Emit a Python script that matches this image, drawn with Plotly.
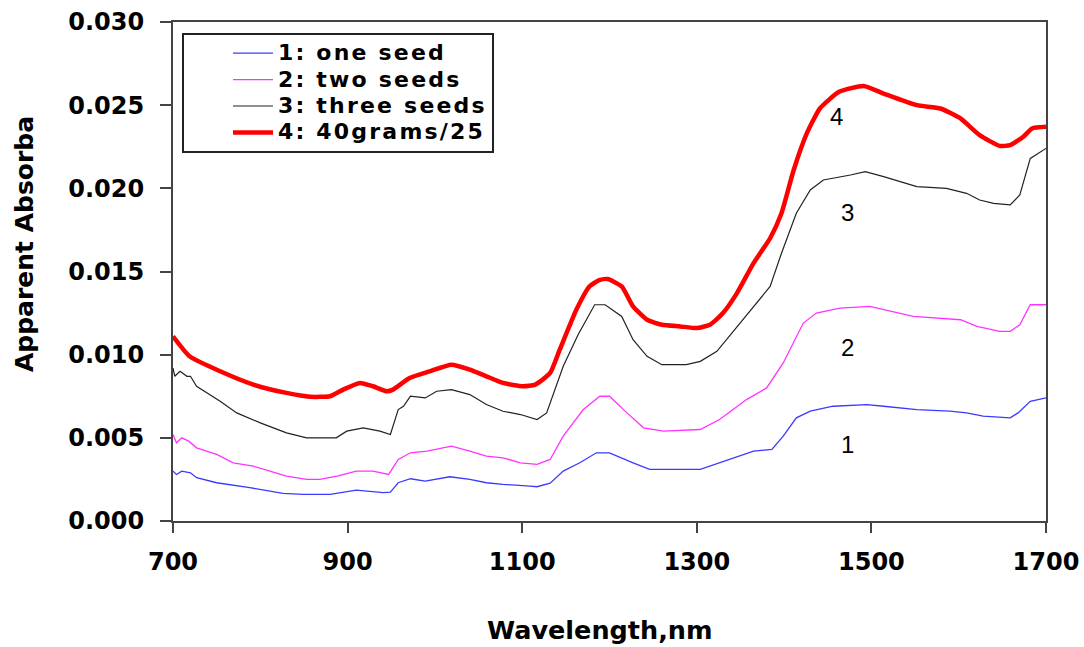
import plotly.graph_objects as go

# Series 4: 40grams/25 (red)
wl4 = [700, 719, 754, 792, 830, 857, 880, 895, 914, 929, 945, 952, 971, 994, 1019, 1040, 1059, 1078,
       1101, 1115, 1132, 1143, 1162, 1177, 1189, 1198, 1214, 1227, 1243, 1260, 1281, 1300, 1315, 1330,
       1346, 1365, 1384, 1397, 1411, 1426, 1441, 1463, 1491, 1514, 1552, 1579, 1602, 1624, 1647, 1659,
       1674, 1684, 1700]
abs4 = [0.0111, 0.0099, 0.0090, 0.0082, 0.0077, 0.00747, 0.0075, 0.0079, 0.0083, 0.0081, 0.0078, 0.0079,
        0.0086, 0.0090, 0.0094, 0.0091, 0.0087, 0.0083, 0.0081, 0.0082, 0.0089, 0.0103, 0.0127, 0.0141,
        0.0145, 0.01455, 0.0141, 0.0129, 0.0121, 0.0118, 0.0117, 0.0116, 0.0118, 0.0125, 0.0137, 0.0155,
        0.0170, 0.0185, 0.0211, 0.0233, 0.0248, 0.0258, 0.02615, 0.0257, 0.0250, 0.0248, 0.0242, 0.0232,
        0.02255, 0.0226, 0.0231, 0.0236, 0.0237]

# Series 3: three seeds (black)
wl3 = [700, 702, 708, 716, 720, 727, 754, 773, 800, 830, 853, 887, 899, 918, 937, 949, 958, 964, 972,
       989, 1002, 1019, 1040, 1059, 1078, 1098, 1117, 1128, 1147, 1164, 1183, 1195, 1214, 1227, 1243,
       1260, 1288, 1304, 1323, 1350, 1369, 1384, 1397, 1414, 1430, 1445, 1476, 1493, 1514, 1552, 1586,
       1609, 1624, 1640, 1659, 1670, 1682, 1697, 1700]
abs3 = [0.0092, 0.0087, 0.0090, 0.0087, 0.0087, 0.0081, 0.0072, 0.0065, 0.0059, 0.0053, 0.0050, 0.0050,
        0.0054, 0.0056, 0.0054, 0.0052, 0.0067, 0.0069, 0.0075, 0.0074, 0.0078, 0.0079, 0.0076, 0.0070,
        0.0066, 0.0064, 0.0061, 0.0065, 0.0093, 0.0112, 0.0130, 0.0130, 0.0123, 0.0109, 0.0099, 0.0094,
        0.0094, 0.0096, 0.0102, 0.0119, 0.0131, 0.0141, 0.0161, 0.0185, 0.0199, 0.0205, 0.0208, 0.0210,
        0.0207, 0.0201, 0.0200, 0.0197, 0.0193, 0.0191, 0.0190, 0.0196, 0.0218, 0.0223, 0.0224]

# Series 2: two seeds (magenta)
wl2 = [700, 704, 710, 718, 727, 750, 769, 792, 811, 830, 853, 868, 888, 910, 929, 947, 958, 972, 991,
       1019, 1040, 1059, 1078, 1098, 1117, 1132, 1147, 1170, 1189, 1200, 1220, 1239, 1262, 1304, 1326,
       1357, 1380, 1399, 1422, 1437, 1464, 1498, 1548, 1579, 1602, 1621, 1647, 1659, 1670, 1682, 1700]
abs2 = [0.0052, 0.0047, 0.0050, 0.0048, 0.0044, 0.0040, 0.0035, 0.0033, 0.0030, 0.0027, 0.0025, 0.0025,
        0.0027, 0.0030, 0.0030, 0.0028, 0.0037, 0.0041, 0.0042, 0.0045, 0.0042, 0.0039, 0.0038, 0.0035,
        0.0034, 0.0037, 0.0051, 0.0067, 0.0075, 0.0075, 0.0065, 0.0056, 0.0054, 0.0055, 0.0061, 0.0073,
        0.0080, 0.0095, 0.0119, 0.0125, 0.0128, 0.0129, 0.0123, 0.0122, 0.0121, 0.0117, 0.0114, 0.0114,
        0.0118, 0.0130, 0.0130]

# Series 1: one seed (blue)
wl1 = [700, 704, 710, 720, 727, 750, 788, 826, 849, 880, 910, 941, 949, 958, 972, 989, 1017, 1040,
       1059, 1078, 1109, 1117, 1132, 1147, 1166, 1185, 1193, 1200, 1227, 1246, 1304, 1342, 1365, 1386,
       1399, 1414, 1430, 1456, 1495, 1514, 1552, 1590, 1609, 1628, 1659, 1668, 1682, 1700]
abs1 = [0.0030, 0.0028, 0.0030, 0.0029, 0.0026, 0.0023, 0.0020, 0.00166, 0.0016, 0.0016, 0.00186, 0.0017,
        0.00173, 0.0023, 0.00254, 0.0024, 0.00266, 0.0025, 0.0023, 0.0022, 0.0021, 0.00206, 0.00227,
        0.0030, 0.0035, 0.0041, 0.0041, 0.0041, 0.0035, 0.0031, 0.0031, 0.0038, 0.0042, 0.0043, 0.0051,
        0.0062, 0.0066, 0.0069, 0.0070, 0.0069, 0.0067, 0.0066, 0.0065, 0.0063, 0.0062, 0.0065, 0.0072,
        0.0074]

series_names = ["1: one seed", "2: two seeds", "3: three seeds", "4: 40grams/25"]
curve_labels = ["1", "2", "3", "4"]
label_x = [1473, 1473, 1473, 1460]
label_y = [0.00457, 0.01046, 0.01852, 0.02429]
x_title = "Wavelength,nm"
y_title = "Apparent Absorba"

BOLD = dict(family="DejaVu Sans", size=24, color="black", weight="bold")


def legend_text(s):
    return '<span style="font-size:22px;letter-spacing:2.2px">' + s + '</span>'


fig = go.Figure()
fig.add_trace(go.Scatter(x=wl1, y=abs1, mode="lines", name=legend_text(series_names[0]),
                         line=dict(color="#3a3aff", width=1.3)))
fig.add_trace(go.Scatter(x=wl2, y=abs2, mode="lines", name=legend_text(series_names[1]),
                         line=dict(color="#ff33ff", width=1.3)))
fig.add_trace(go.Scatter(x=wl3, y=abs3, mode="lines", name=legend_text(series_names[2]),
                         line=dict(color="#222222", width=1.2)))
fig.add_trace(go.Scatter(x=wl4, y=abs4, mode="lines", name=legend_text(series_names[3]),
                         line=dict(color="#ff0000", width=4.5, shape="spline", smoothing=0.5)))

for t, lx, ly in zip(curve_labels, label_x, label_y):
    fig.add_annotation(x=lx, y=ly, xref="x", yref="y", text=t, showarrow=False,
                       font=dict(family="Liberation Sans, Arial", size=24, color="black"))

fig.add_annotation(x=0.489, y=-0.218, xref="paper", yref="paper", text=x_title, showarrow=False,
                   xanchor="center", yanchor="middle",
                   font=dict(family="DejaVu Sans", size=25.5, color="black", weight="bold"))
fig.add_annotation(x=-0.1707, y=0.555, xref="paper", yref="paper", text=y_title, showarrow=False,
                   textangle=-90, xanchor="center", yanchor="middle",
                   font=dict(family="DejaVu Sans", size=25, color="black", weight="bold"))

fig.update_layout(
    width=1084, height=647,
    margin=dict(l=173, r=38, t=22, b=126, autoexpand=False),
    paper_bgcolor="white", plot_bgcolor="white",
    showlegend=True,
    legend=dict(x=0.0103, y=0.978, xanchor="left", yanchor="top",
                bgcolor="white", bordercolor="#222222", borderwidth=2,
                font=dict(family="DejaVu Sans", size=18, color="black", weight="bold"),
                indentation=44, itemwidth=40, tracegroupgap=0),
)
fig.update_xaxes(range=[700, 1700], tick0=700, dtick=200, ticks="outside", ticklen=10,
                 tickwidth=1.5, tickcolor="#444444", showline=True, linecolor="#444444",
                 linewidth=2, mirror=True, showgrid=False, zeroline=False, automargin=False,
                 tickfont=BOLD, ticklabelstandoff=8)
fig.update_yaxes(range=[0, 0.030], dtick=0.005, tickformat=".3f", ticks="outside", ticklen=11,
                 tickwidth=1.5, tickcolor="#444444", showline=True, linecolor="#444444",
                 linewidth=2, mirror=True, showgrid=False, zeroline=False, automargin=False,
                 tickfont=BOLD, ticklabelstandoff=11)

fig.write_html("out.html")
